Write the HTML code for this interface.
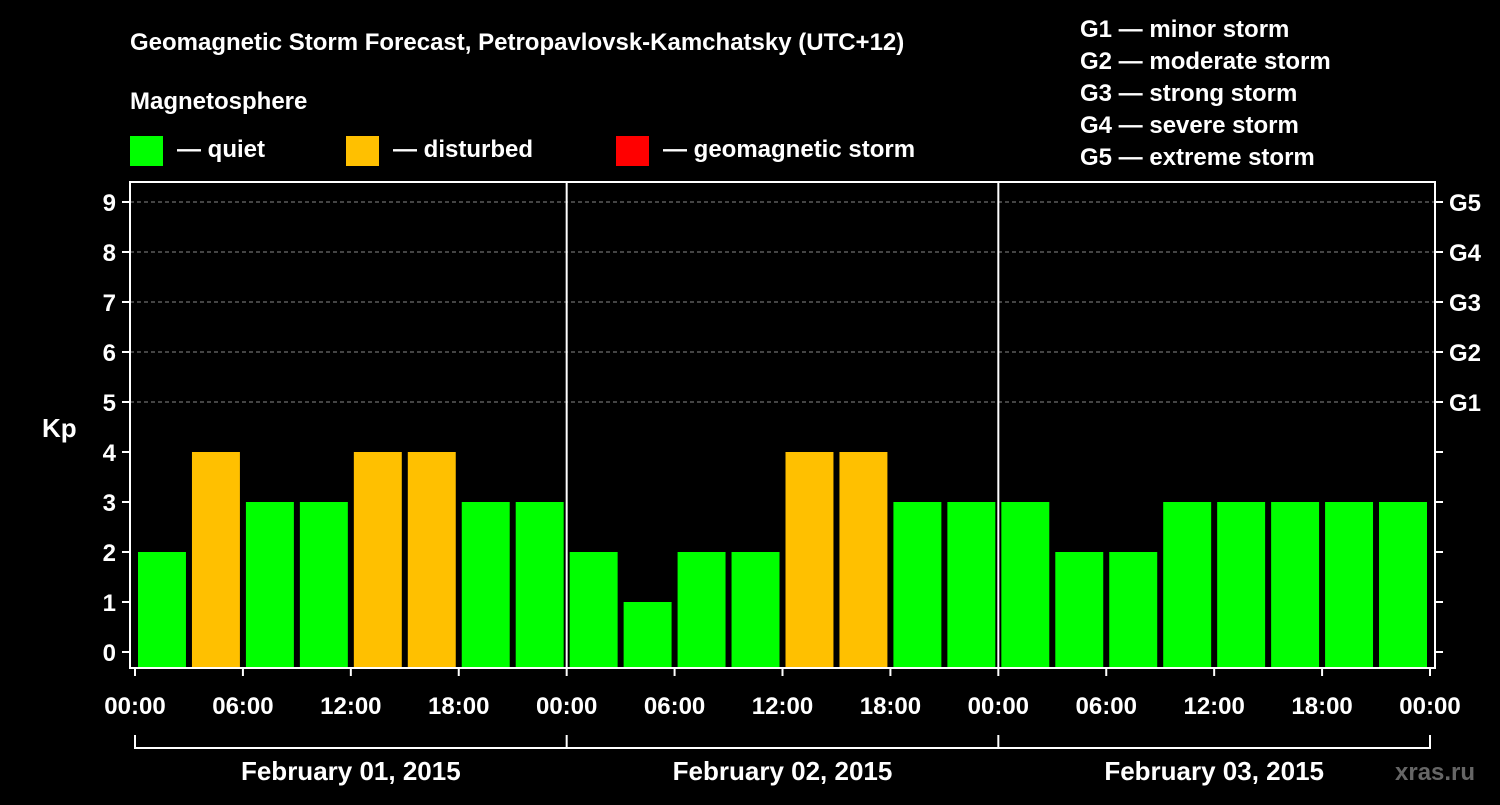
<!DOCTYPE html>
<html><head><meta charset="utf-8"><style>
body{margin:0;background:#000;width:1500px;height:800px;overflow:hidden;font-family:"Liberation Sans",sans-serif}
svg text{font-family:"Liberation Sans",sans-serif;font-weight:bold;fill:#fff}
</style></head><body>
<svg id="chart" width="1500" height="800" xmlns="http://www.w3.org/2000/svg">
<rect width="1500" height="800" fill="#000"/>
<text x="130" y="50" font-size="24">Geomagnetic Storm Forecast, Petropavlovsk-Kamchatsky (UTC+12)</text>
<text x="130" y="109" font-size="24">Magnetosphere</text>
<rect x="130" y="136" width="33" height="30" fill="#00ff00"/>
<text x="177" y="157" font-size="24">— quiet</text>
<rect x="346" y="136" width="33" height="30" fill="#ffc000"/>
<text x="393" y="157" font-size="24">— disturbed</text>
<rect x="616" y="136" width="33" height="30" fill="#ff0000"/>
<text x="663" y="157" font-size="24">— geomagnetic storm</text>
<g font-size="24">
<text x="1080" y="37">G1 — minor storm</text>
<text x="1080" y="69">G2 — moderate storm</text>
<text x="1080" y="101">G3 — strong storm</text>
<text x="1080" y="133">G4 — severe storm</text>
<text x="1080" y="165">G5 — extreme storm</text>
</g>
<text x="42" y="437" font-size="26">Kp</text>
<text x="1395" y="780" font-size="24" fill="#666" style="fill:#666">xras.ru</text>
<g id="plot"></g>
</svg>
<script>
const values=[2,4,3,3,4,4,3,3, 2,1,2,2,4,4,3,3, 3,2,2,3,3,3,3,3];
const yTicks=[0,1,2,3,4,5,6,7,8,9];
const gLabels=["G1","G2","G3","G4","G5"];
const gLevels=[5,6,7,8,9];
const timeLabels=["00:00","06:00","12:00","18:00"];
const dates=["February 01, 2015","February 02, 2015","February 03, 2015"];
const NS="http://www.w3.org/2000/svg";
const L=130,R=1435,T=182,B=668,X0=135,X1=1430;
const y=v=>652-50*v;
const x=h=>X0+(X1-X0)*h/72;
const g=document.getElementById('plot');
function mk(t,a){const e=document.createElementNS(NS,t);for(const k in a)e.setAttribute(k,a[k]);g.appendChild(e);return e;}
gLevels.forEach(v=>{const e=mk('line',{x1:L,x2:R,y1:y(v),y2:y(v),stroke:'#888','stroke-dasharray':'4,3','stroke-width':1});

});
values.forEach((v,i)=>{const e=mk('rect',{x:x(i*3)+3,y:y(v),width:x(3)-x(0)-6,height:B-y(v),fill:v>=5?'#ff0000':v>=4?'#ffc000':'#00ff00'});

});
const fr=mk('rect',{x:L,y:T,width:R-L,height:B-T,fill:'none',stroke:'#fff','stroke-width':2});


[24,48].forEach(h=>{const e=mk('line',{x1:x(h),x2:x(h),y1:T,y2:B,stroke:'#fff','stroke-width':2});

});
yTicks.forEach(v=>{mk('line',{x1:L-8,x2:L,y1:y(v),y2:y(v),stroke:'#fff','stroke-width':2});
mk('line',{x1:R,x2:R+8,y1:y(v),y2:y(v),stroke:'#fff','stroke-width':2});
const t=mk('text',{x:L-14,y:y(v)+9,'text-anchor':'end','font-size':24});t.textContent=v;

});
gLevels.forEach((v,i)=>{const t=mk('text',{x:1449,y:y(v)+9,'font-size':24});t.textContent=gLabels[i];

});
for(let h=0;h<=72;h+=6){mk('line',{x1:x(h),x2:x(h),y1:B,y2:B+8,stroke:'#fff','stroke-width':2});
const t=mk('text',{x:x(h),y:714,'text-anchor':'middle','font-size':24});t.textContent=timeLabels[(h/6)%4];

}
const br=mk('line',{x1:X0,x2:X1,y1:748,y2:748,stroke:'#fff','stroke-width':2});


[0,24,48,72].forEach(h=>mk('line',{x1:x(h),x2:x(h),y1:735,y2:749,stroke:'#fff','stroke-width':2}));
dates.forEach((d,i)=>{const t=mk('text',{x:x(i*24+12),y:780,'text-anchor':'middle','font-size':26});t.textContent=d;

});
</script>
</body></html>
